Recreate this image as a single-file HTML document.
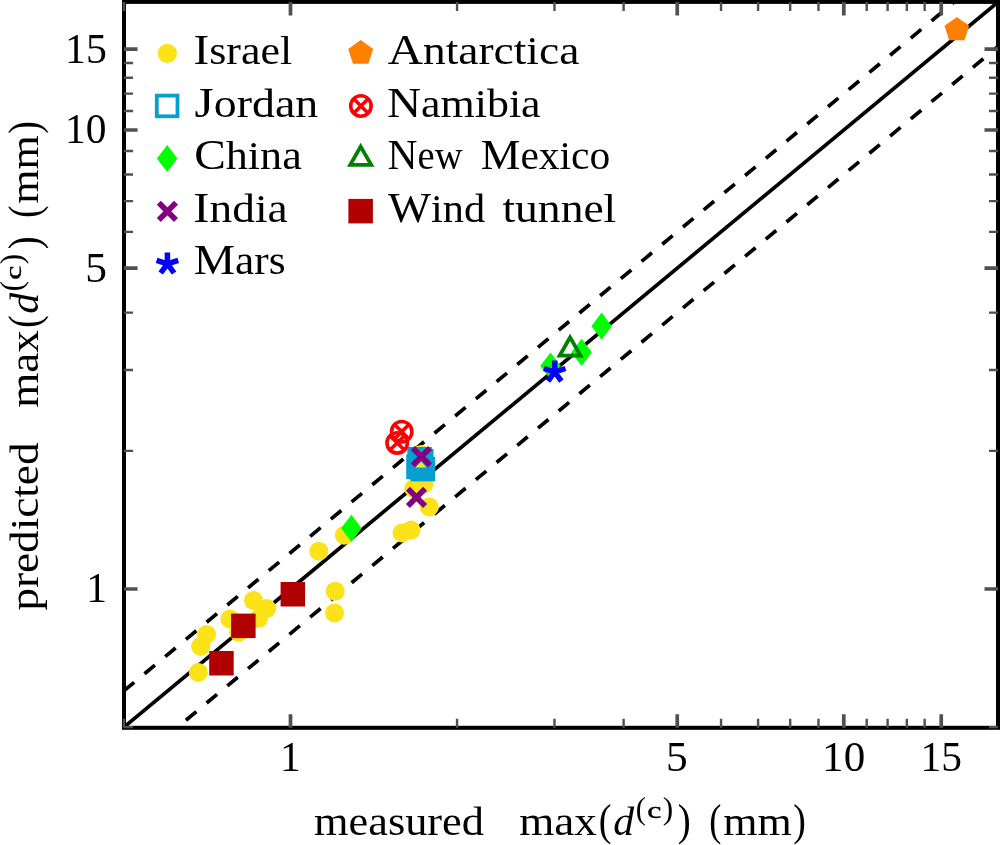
<!DOCTYPE html>
<html><head><meta charset="utf-8"><title>chart</title>
<style>html,body{margin:0;padding:0;background:#fff;}svg{display:block;}text{font-family:"Liberation Serif",serif;fill:#000;}</style></head><body>
<svg width="1000" height="845" viewBox="0 0 1000 845">
<rect x="0" y="0" width="1000" height="845" fill="#fff"/>
<defs><clipPath id="pc"><rect x="124.0" y="1.9" width="874.0" height="725.9"/></clipPath></defs>
<g clip-path="url(#pc)" stroke="#000" stroke-width="3.7" fill="none">
<line x1="123.94" y1="727.17" x2="998.03" y2="2.05"/>
<line x1="123.80" y1="690.94" x2="998.03" y2="-34.29" stroke-dasharray="13.5 13.41"/>
<line x1="123.80" y1="771.77" x2="998.03" y2="46.53" stroke-dasharray="13.5 13.41"/>
</g>
<g fill="#FCE218">
<circle cx="198.4" cy="672.4" r="9.5"/>
<circle cx="200.6" cy="646.4" r="9.5"/>
<circle cx="206.6" cy="634.4" r="9.5"/>
<circle cx="229.8" cy="618.9" r="9.5"/>
<circle cx="238.7" cy="632.3" r="9.5"/>
<circle cx="253.5" cy="600.5" r="9.5"/>
<circle cx="258.5" cy="618.6" r="9.5"/>
<circle cx="266.7" cy="608.5" r="9.5"/>
<circle cx="335.2" cy="591.2" r="9.5"/>
<circle cx="334.6" cy="613.0" r="9.5"/>
<circle cx="318.8" cy="551.2" r="9.5"/>
<circle cx="344.4" cy="535.2" r="9.5"/>
<circle cx="402.0" cy="532.9" r="9.5"/>
<circle cx="411.0" cy="530.0" r="9.5"/>
<circle cx="429.3" cy="506.9" r="9.5"/>
<circle cx="413.7" cy="488.6" r="9.5"/>
<circle cx="423.8" cy="484.0" r="9.5"/>
<circle cx="421.0" cy="454.4" r="9.5"/>
<circle cx="420.6" cy="461.5" r="9.5"/>
</g>
<path d="M351.4 514.7 L361.6 528.3 L351.4 541.9 L341.1 528.3Z" fill="#00FF00"/>
<path d="M550.5 352.4 L560.8 366.0 L550.5 379.6 L540.2 366.0Z" fill="#00FF00"/>
<path d="M581.6 338.7 L591.9 352.3 L581.6 365.9 L571.4 352.3Z" fill="#00FF00"/>
<path d="M601.6 312.6 L611.9 326.2 L601.6 339.8 L591.4 326.2Z" fill="#00FF00"/>
<rect x="409" y="449" width="24.5" height="30.5" fill="#06A0D0"/>
<rect x="409.2" y="448.9" width="20.7" height="20.7" fill="none" stroke="#06A0D0" stroke-width="3.8"/>
<rect x="408.1" y="456.5" width="20.7" height="20.7" fill="none" stroke="#06A0D0" stroke-width="3.8"/>
<rect x="412.6" y="458.8" width="20.7" height="20.7" fill="none" stroke="#06A0D0" stroke-width="3.8"/>
<path d="M415.5 467.4 L426.5 467.4 L421 461.5Z" fill="#FCE218"/>
<path d="M412.8 448.0 L430.0 465.2 M412.8 465.2 L430.0 448.0" stroke="#800080" stroke-width="5.6" fill="none"/>
<path d="M407.9 488.7 L425.1 505.9 M407.9 505.9 L425.1 488.7" stroke="#800080" stroke-width="5.6" fill="none"/>
<g stroke="#FF0000" stroke-width="3.6" fill="none"><circle cx="401.7" cy="431.7" r="10.2"/><path d="M394.5 424.5 L408.9 438.9 M394.5 438.9 L408.9 424.5"/></g>
<g stroke="#FF0000" stroke-width="3.6" fill="none"><circle cx="397.2" cy="442.9" r="10.2"/><path d="M390.0 435.7 L404.4 450.1 M390.0 450.1 L404.4 435.7"/></g>
<path d="M570.10 337.42 L580.57 355.70 L559.63 355.70Z" fill="none" stroke="#008000" stroke-width="3.8" stroke-linejoin="miter"/>
<path d="M554.7 372.0 L554.7 360.6 M554.7 372.0 L565.5 368.5 M554.7 372.0 L561.4 381.2 M554.7 372.0 L548.0 381.2 M554.7 372.0 L543.9 368.5 " stroke="#0000FF" stroke-width="5.5" fill="none"/>
<path d="M956.9 16.9 L969.2 25.8 L964.5 40.3 L949.2 40.3 L944.5 25.8Z" fill="#FF8000"/>
<rect x="209.2" y="651.0" width="24.5" height="24.5" fill="#B00000"/>
<rect x="231.1" y="613.6" width="24.5" height="24.5" fill="#B00000"/>
<rect x="280.6" y="582.0" width="24.5" height="24.5" fill="#B00000"/>
<g stroke="#000" stroke-width="4.0" fill="none">
<rect x="124.0" y="1.9" width="874.0" height="725.9"/>
</g>
<g stroke="#505050" fill="none">
<path d="M290.50 727.80 V714.30 M290.50 1.90 V15.40 M124.05 589.00 H137.55 M998.00 589.00 H984.50" stroke-width="3.7"/>
<path d="M677.24 727.80 V714.30 M677.24 1.90 V15.40 M124.05 268.17 H137.55 M998.00 268.17 H984.50" stroke-width="3.7"/>
<path d="M843.80 727.80 V714.30 M843.80 1.90 V15.40 M124.05 130.00 H137.55 M998.00 130.00 H984.50" stroke-width="3.7"/>
<path d="M941.23 727.80 V714.30 M941.23 1.90 V15.40 M124.05 49.17 H137.55 M998.00 49.17 H984.50" stroke-width="3.7"/>
<path d="M123.94 727.80 V718.80 M123.94 1.90 V10.90 M124.05 727.17 H133.05 M998.00 727.17 H989.00" stroke-width="2.4"/>
<path d="M457.06 727.80 V718.80 M457.06 1.90 V10.90 M124.05 450.83 H133.05 M998.00 450.83 H989.00" stroke-width="2.4"/>
<path d="M554.49 727.80 V718.80 M554.49 1.90 V10.90 M124.05 370.00 H133.05 M998.00 370.00 H989.00" stroke-width="2.4"/>
<path d="M623.62 727.80 V718.80 M623.62 1.90 V10.90 M124.05 312.65 H133.05 M998.00 312.65 H989.00" stroke-width="2.4"/>
<path d="M721.05 727.80 V718.80 M721.05 1.90 V10.90 M124.05 231.83 H133.05 M998.00 231.83 H989.00" stroke-width="2.4"/>
<path d="M758.09 727.80 V718.80 M758.09 1.90 V10.90 M124.05 201.10 H133.05 M998.00 201.10 H989.00" stroke-width="2.4"/>
<path d="M790.18 727.80 V718.80 M790.18 1.90 V10.90 M124.05 174.48 H133.05 M998.00 174.48 H989.00" stroke-width="2.4"/>
<path d="M818.48 727.80 V718.80 M818.48 1.90 V10.90 M124.05 151.00 H133.05 M998.00 151.00 H989.00" stroke-width="2.4"/>
<path d="M866.70 727.80 V718.80 M866.70 1.90 V10.90 M124.05 111.00 H133.05 M998.00 111.00 H989.00" stroke-width="2.4"/>
<path d="M887.61 727.80 V718.80 M887.61 1.90 V10.90 M124.05 93.66 H133.05 M998.00 93.66 H989.00" stroke-width="2.4"/>
<path d="M906.84 727.80 V718.80 M906.84 1.90 V10.90 M124.05 77.70 H133.05 M998.00 77.70 H989.00" stroke-width="2.4"/>
<path d="M924.65 727.80 V718.80 M924.65 1.90 V10.90 M124.05 62.93 H133.05 M998.00 62.93 H989.00" stroke-width="2.4"/>
</g>
<g style="will-change:opacity">
<text transform="translate(279.90 770.70) scale(1.0138 1.0185)" font-size="41.0">1</text>
<text transform="translate(665.95 770.70) scale(1.0606 1.0280)" font-size="41.0">5</text>
<text transform="translate(822.12 770.70) scale(1.0500 1.0092)" font-size="41.0">10</text>
<text transform="translate(920.46 770.70) scale(1.0111 1.0185)" font-size="41.0">15</text>
<text transform="translate(65.08 62.57) scale(1.0208 1.0167)" font-size="41.0">15</text>
<text transform="translate(65.12 143.40) scale(1.0097 1.0073)" font-size="41.0">10</text>
<text transform="translate(85.25 281.57) scale(1.0606 1.0262)" font-size="41.0">5</text>
<text transform="translate(86.15 602.40) scale(1.0138 1.0167)" font-size="41.0">1</text>
<text transform="translate(193.41 64.10) scale(1.0593 0.9650)" font-size="41.5"><tspan font-size="44.6">I</tspan>srael</text>
<text transform="translate(194.49 116.65) scale(1.1066 0.9650)" font-size="41.5"><tspan font-size="44.6">J</tspan>ordan</text>
<text transform="translate(194.14 169.20) scale(1.0633 0.9650)" font-size="41.5"><tspan font-size="44.6">C</tspan>hina</text>
<text transform="translate(193.36 221.75) scale(1.0920 0.9650)" font-size="41.5"><tspan font-size="44.6">I</tspan>ndia</text>
<text transform="translate(193.70 274.30) scale(1.0440 0.9650)" font-size="41.5"><tspan font-size="44.6">M</tspan>ars</text>
<text transform="translate(387.70 64.10) scale(1.0948 0.9650)" font-size="41.5"><tspan font-size="44.6">A</tspan>ntarctica</text>
<text transform="translate(386.93 116.65) scale(1.0593 0.9650)" font-size="41.5"><tspan font-size="44.6">N</tspan>amibia</text>
<text transform="translate(387.59 169.20) scale(0.9306 0.9650)" font-size="41.5"><tspan font-size="44.6">N</tspan>ew</text>
<text transform="translate(480.75 169.20) scale(1.0000 0.9650)" font-size="41.5"><tspan font-size="44.6">M</tspan>exico</text>
<text transform="translate(388.00 221.75) scale(1.0212 0.9650)" font-size="41.5"><tspan font-size="44.6">W</tspan>ind</text>
<text transform="translate(502.45 221.75) scale(1.0976 0.9650)" font-size="41.5">tunnel</text>
<circle cx="167.3" cy="53.35" r="9.6" fill="#FCE218"/>
<rect x="156.8" y="95.6" width="20.7" height="20.7" fill="none" stroke="#06A0D0" stroke-width="3.8"/>
<path d="M167.2 144.9 L177.4 158.5 L167.2 172.1 L156.9 158.5Z" fill="#00FF00"/>
<path d="M158.8 202.8 L176.0 220.0 M158.8 220.0 L176.0 202.8" stroke="#800080" stroke-width="5.6" fill="none"/>
<path d="M167.4 263.8 L167.4 252.4 M167.4 263.8 L178.2 260.3 M167.4 263.8 L174.1 273.0 M167.4 263.8 L160.7 273.0 M167.4 263.8 L156.6 260.3 " stroke="#0000FF" stroke-width="5.5" fill="none"/>
<path d="M360.7 40.1 L373.2 49.1 L368.4 63.8 L353.0 63.8 L348.2 49.1Z" fill="#FF8000"/>
<g stroke="#FF0000" stroke-width="3.6" fill="none"><circle cx="360.9" cy="106.0" r="10.2"/><path d="M353.7 98.8 L368.2 113.2 M353.7 113.2 L368.2 98.8"/></g>
<path d="M360.70 146.62 L371.17 164.90 L350.23 164.90Z" fill="none" stroke="#008000" stroke-width="3.8" stroke-linejoin="miter"/>
<rect x="348.4" y="198.9" width="24.5" height="24.5" fill="#B00000"/>
<g transform="translate(0,834.6)">
<text transform="translate(314.00 0.00) scale(1.0694 0.9650)" font-size="41.5">measured</text>
<text transform="translate(519.18 0.00) scale(1.0875 0.9650)" font-size="41.5">max</text>
<text transform="translate(598.84 0.80) scale(0.9209 1.0853)" font-size="41.5">(</text>
<text transform="translate(613.14 0.00) scale(1.0051 0.9774)" font-size="41.5" font-style="italic">d</text>
<text transform="translate(635.78 -16.03) scale(1.0533 1.0712)" font-size="29">(</text>
<text transform="translate(647.20 -17.10) scale(1.1000 0.8145)" font-size="29" stroke="#000" stroke-width="0.45">c</text>
<text transform="translate(662.82 -16.03) scale(1.0800 1.0712)" font-size="29">)</text>
<text transform="translate(677.73 0.80) scale(0.9395 1.0853)" font-size="41.5">)</text>
<text transform="translate(709.17 0.80) scale(0.8744 1.0853)" font-size="41.5">(</text>
<text transform="translate(723.20 0.00) scale(1.0609 0.9650)" font-size="41.5">mm</text>
<text transform="translate(793.16 0.80) scale(0.9116 1.0853)" font-size="41.5">)</text>
</g>
<g transform="translate(37.7,609.8) rotate(-90)">
<text transform="translate(-0.82 0.00) scale(1.0895 0.9650)" font-size="41.5">predicted</text>
<text transform="translate(202.03 0.00) scale(1.0875 0.9650)" font-size="41.5">max</text>
<text transform="translate(281.69 0.80) scale(0.9209 1.0853)" font-size="41.5">(</text>
<text transform="translate(295.99 0.00) scale(1.0051 0.9774)" font-size="41.5" font-style="italic">d</text>
<text transform="translate(318.63 -16.03) scale(1.0533 1.0712)" font-size="29">(</text>
<text transform="translate(330.05 -17.10) scale(1.1000 0.8145)" font-size="29" stroke="#000" stroke-width="0.45">c</text>
<text transform="translate(345.67 -16.03) scale(1.0800 1.0712)" font-size="29">)</text>
<text transform="translate(360.58 0.80) scale(0.9395 1.0853)" font-size="41.5">)</text>
<text transform="translate(392.02 0.80) scale(0.8744 1.0853)" font-size="41.5">(</text>
<text transform="translate(406.05 0.00) scale(1.0609 0.9650)" font-size="41.5">mm</text>
<text transform="translate(476.01 0.80) scale(0.9116 1.0853)" font-size="41.5">)</text>
</g>
</g>
</svg></body></html>
